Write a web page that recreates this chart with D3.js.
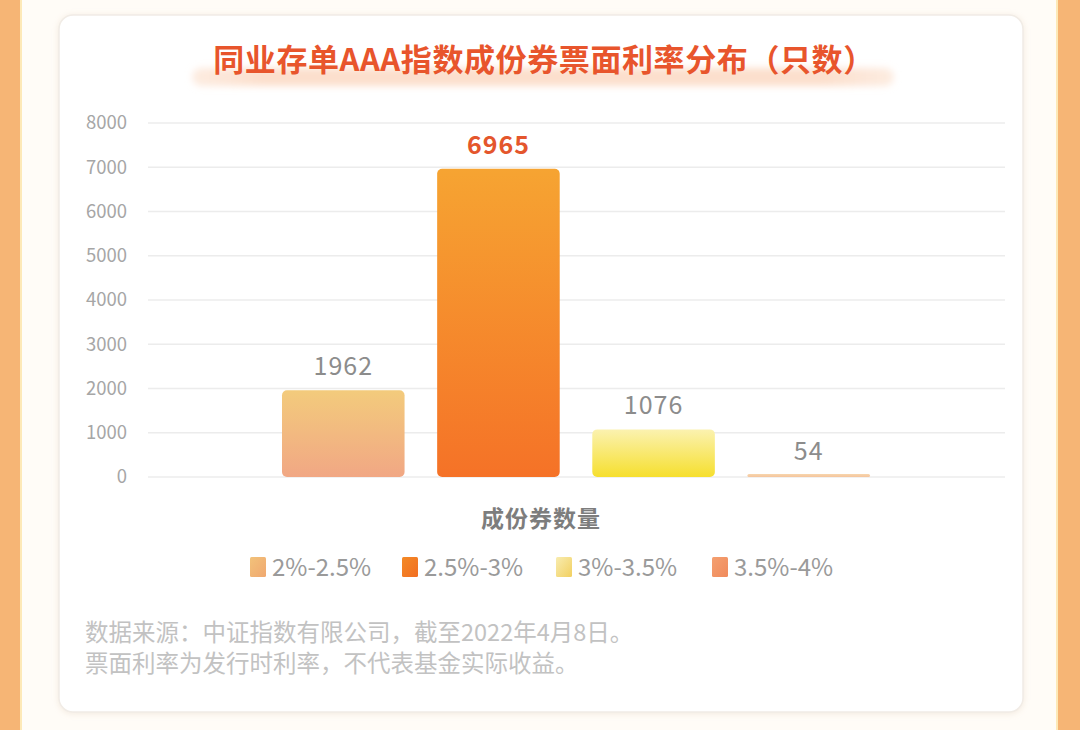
<!DOCTYPE html>
<html>
<head>
<meta charset="utf-8">
<script src="https://cdn.jsdelivr.net/npm/d3@7"></script>
<style>
html,body{margin:0;padding:0;background:#fffdf9;}
svg{display:block;}
text{font-family:"Noto Sans CJK SC","Noto Sans",sans-serif;}
</style>
</head>
<body>
<svg id="chart" width="1080" height="730"></svg>
<script>
const title = "同业存单AAA指数成份券票面利率分布（只数）";
const categories = ["2%-2.5%", "2.5%-3%", "3%-3.5%", "3.5%-4%"];
const values = [1962, 6965, 1076, 54];
const yTicks = [0, 1000, 2000, 3000, 4000, 5000, 6000, 7000, 8000];
const xAxisTitle = "成份券数量";
const notes = ["数据来源：中证指数有限公司，截至2022年4月8日。", "票面利率为发行时利率，不代表基金实际收益。"];
const barGradients = [["#f3cb7c", "#f1a784"], ["#f6a432", "#f57227"], ["#fbf2b0", "#f6df2e"], ["#f7d6ae", "#f5c49c"]];
const swatchGradients = [["#f2c27a", "#f0a870"], ["#f38a26", "#f26e22"], ["#f8ecb0", "#f2d060"], ["#f4a070", "#f08a5c"]];

const svg = d3.select("#chart");
const defs = svg.append("defs");

// background
svg.append("rect").attr("x", 0).attr("y", 0).attr("width", 1080).attr("height", 730).attr("fill", "#fffcf7");
svg.append("rect").attr("x", 0).attr("y", 0).attr("width", 20).attr("height", 730).attr("fill", "#f6b575");
svg.append("rect").attr("x", 20).attr("y", 0).attr("width", 2).attr("height", 730).attr("fill", "#fde9b8");
svg.append("rect").attr("x", 1058).attr("y", 0).attr("width", 22).attr("height", 730).attr("fill", "#f6b575");
svg.append("rect").attr("x", 1056).attr("y", 0).attr("width", 2).attr("height", 730).attr("fill", "#fde9b8");

// card shadow
const f = defs.append("filter").attr("id", "sh").attr("x", "-5%").attr("y", "-5%").attr("width", "110%").attr("height", "110%");
f.append("feGaussianBlur").attr("in", "SourceAlpha").attr("stdDeviation", 3);
f.append("feOffset").attr("dx", 0).attr("dy", 1).attr("result", "b");
f.append("feFlood").attr("flood-color", "#e8d8c8").attr("flood-opacity", 0.5);
f.append("feComposite").attr("in2", "b").attr("operator", "in");
const fm = f.append("feMerge"); fm.append("feMergeNode"); fm.append("feMergeNode").attr("in", "SourceGraphic");

svg.append("rect").attr("x", 59).attr("y", 15).attr("width", 964).attr("height", 697)
  .attr("rx", 14).attr("fill", "#ffffff").attr("stroke", "#f1ece6").attr("stroke-width", 1.5).attr("filter", "url(#sh)");

// title highlight band
const tg = defs.append("linearGradient").attr("id", "tband").attr("x1", 0).attr("x2", 1).attr("y1", 0).attr("y2", 0);
tg.append("stop").attr("offset", "0%").attr("stop-color", "#fce4d4").attr("stop-opacity", 0.7);
tg.append("stop").attr("offset", "10%").attr("stop-color", "#fcdfcc").attr("stop-opacity", 1);
tg.append("stop").attr("offset", "90%").attr("stop-color", "#fcdfcc").attr("stop-opacity", 1);
tg.append("stop").attr("offset", "100%").attr("stop-color", "#fce4d4").attr("stop-opacity", 0.7);
const bf = defs.append("filter").attr("id", "blur").attr("x", "-10%").attr("y", "-100%").attr("width", "120%").attr("height", "300%");
bf.append("feGaussianBlur").attr("stdDeviation", 3.5);
svg.append("rect").attr("x", 192).attr("y", 68).attr("width", 702).attr("height", 18).attr("rx", 9)
  .attr("fill", "url(#tband)").attr("filter", "url(#blur)");

svg.append("text").attr("x", 544).attr("y", 71).attr("text-anchor", "middle")
  .attr("font-size", 31).attr("font-weight", 700).attr("fill", "#e8552c").attr("letter-spacing", 0.6).text(title);

// scales
const y = d3.scaleLinear().domain([0, 8000]).range([477, 123]);
const x = d3.scaleBand().domain(categories).range([282, 870]).paddingInner(0.21).paddingOuter(0);

// grid
svg.append("g").selectAll("line").data(yTicks).join("line")
  .attr("x1", 148).attr("x2", 1005).attr("y1", d => y(d)).attr("y2", d => y(d))
  .attr("stroke", "#ececec").attr("stroke-width", 1.3);

// y axis labels via d3 axis
const yAxis = svg.append("g").attr("transform", "translate(127,0)")
  .call(d3.axisLeft(y).tickValues(yTicks).tickSize(0).tickPadding(0).tickFormat(d3.format("d")));
yAxis.select(".domain").remove();
yAxis.selectAll("text").attr("font-size", 18.5).attr("fill", "#a6a6a6")
  .attr("font-family", "'Noto Sans CJK SC','Noto Sans',sans-serif");

// bar gradients
barGradients.forEach((g, i) => {
  const lg = defs.append("linearGradient").attr("id", "bg" + i).attr("x1", 0).attr("y1", 0).attr("x2", 0).attr("y2", 1);
  lg.append("stop").attr("offset", "0%").attr("stop-color", g[0]);
  lg.append("stop").attr("offset", "100%").attr("stop-color", g[1]);
});
swatchGradients.forEach((g, i) => {
  const lg = defs.append("linearGradient").attr("id", "sg" + i).attr("x1", 0).attr("y1", 0).attr("x2", 1).attr("y2", 1);
  lg.append("stop").attr("offset", "0%").attr("stop-color", g[0]);
  lg.append("stop").attr("offset", "100%").attr("stop-color", g[1]);
});

const data = categories.map((c, i) => ({c, v: values[i], i}));

svg.append("g").selectAll("rect").data(data).join("rect")
  .attr("x", d => x(d.c)).attr("width", x.bandwidth())
  .attr("y", d => Math.min(y(d.v), y(0) - 3)).attr("height", d => Math.max(y(0) - y(d.v), 3))
  .attr("rx", d => d.v > 500 ? 5 : 1.5)
  .attr("fill", d => `url(#bg${d.i})`);

svg.append("g").selectAll("text").data(data).join("text")
  .attr("x", d => x(d.c) + x.bandwidth() / 2)
  .attr("y", d => y(d.v) - 15)
  .attr("text-anchor", "middle")
  .attr("font-size", 25)
  .attr("font-weight", d => d.i === 1 ? 700 : 400)
  .attr("fill", d => d.i === 1 ? "#e4562c" : "#8c8c8c")
  .attr("letter-spacing", 1)
  .text(d => d.v);

// x axis title
svg.append("text").attr("x", 541).attr("y", 527).attr("text-anchor", "middle")
  .attr("font-size", 23).attr("font-weight", 700).attr("fill", "#7d7d7d").attr("letter-spacing", 1).text(xAxisTitle);

// legend
const legX = [250, 402, 556, 712];
const leg = svg.append("g").selectAll("g").data(data).join("g")
  .attr("transform", d => `translate(${legX[d.i]},557)`);
leg.append("rect").attr("width", 16).attr("height", 20).attr("rx", 1.5).attr("fill", d => `url(#sg${d.i})`);
leg.append("text").attr("x", 22).attr("y", 19).attr("font-size", 24).attr("fill", "#9a9a9a").text(d => d.c);

// notes
svg.append("g").selectAll("text").data(notes).join("text")
  .attr("x", 85).attr("y", (d, i) => 641 + i * 31)
  .attr("font-size", 23.5).attr("fill", "#c2c2c2").text(d => d);
</script>
</body>
</html>
